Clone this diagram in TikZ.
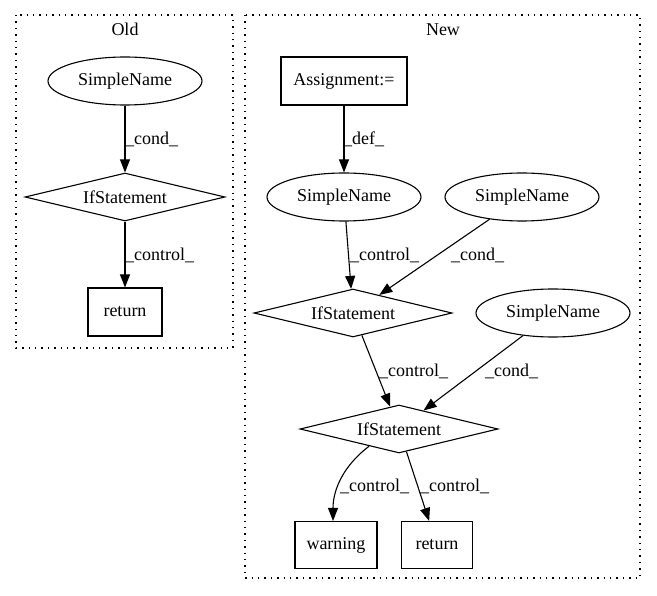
\documentclass[tikz,border=0pt]{standalone}
\usepackage{fontspec}
\setmainfont{Liberation Serif}
\usetikzlibrary{shapes.geometric,arrows.meta,calc}
\begin{document}
\begin{tikzpicture}[x=1pt,y=-1pt,
  every node/.style={font=\fontsize{18}{21}\selectfont},
  ell/.style={draw,ellipse,line width=1.1pt,inner sep=0pt,minimum width=154pt,minimum height=48pt},
  dia/.style={draw,diamond,aspect=4,line width=1.1pt,inner sep=0pt,minimum width=198pt,minimum height=48pt},
  box/.style={draw,rectangle,line width=1.1pt,inner sep=0pt,minimum height=48pt},
  edge/.style={line width=1.1pt,-{Triangle[length=13pt,width=10pt]}},
  lbl/.style={anchor=base west,inner sep=0pt},
  cluster/.style={line width=1.1pt,dash pattern=on 1.4pt off 5pt},
  ttl/.style={anchor=base,inner sep=0pt}]
\useasboundingbox (0,0) rectangle (657,596);
% clusters
\draw[cluster] (16,15) rectangle (233,348);
\draw[cluster] (245,15) rectangle (640,578);
\node[ttl] (told) at (125,36) {Old};
\node[ttl] (tnew) at (443,36) {New};
% Old
\node[ell] (osn) at (125,81) {SimpleName};
\node[dia,minimum width=200pt] (oif) at (125,197) {IfStatement};
\node[box,minimum width=74pt] (oret) at (125,312) {return};
\draw[edge] (osn) -- (oif);
\draw[edge] (oif) -- (oret);
\node[lbl] (ol1) at (125,145) {\_cond\_};
\node[lbl] (ol2) at (125,261) {\_control\_};
% New
\node[box,minimum width=126pt] (asg) at (344,81) {Assignment:=};
\node[ell] (sn1) at (344,197) {SimpleName};
\node[ell] (sn2) at (522,197) {SimpleName};
\node[dia] (if1) at (353,313) {IfStatement};
\node[ell] (sn3) at (553,313) {SimpleName};
\node[dia] (if2) at (399,429) {IfStatement};
\node[box,minimum width=82pt,minimum height=47pt] (warn) at (336,545) {warning};
\node[box,minimum width=71pt,minimum height=47pt] (nret) at (437,545) {return};
\draw[edge] (asg) -- (sn1);
\draw[edge] (sn1) -- (if1);
\draw[edge] (sn2) -- (if1);
\draw[edge] (if1) -- (if2);
\draw[edge] (sn3) -- (if2);
\draw[edge] ($(if2.west)!0.7!(if2.south)$) .. controls (343,466) and (333,490) .. ([xshift=-3pt]warn.north);
\draw[edge] (if2) -- (nret);
\node[lbl] (nl1) at (343,145) {\_def\_};
\node[lbl] (nl2) at (350,261) {\_control\_};
\node[lbl] (nl3) at (451,261) {\_cond\_};
\node[lbl] (nl4) at (379,377) {\_control\_};
\node[lbl] (nl5) at (485,377) {\_cond\_};
\node[lbl] (nl6) at (340,492) {\_control\_};
\node[lbl] (nl7) at (420,492) {\_control\_};
\end{tikzpicture}
\end{document}
